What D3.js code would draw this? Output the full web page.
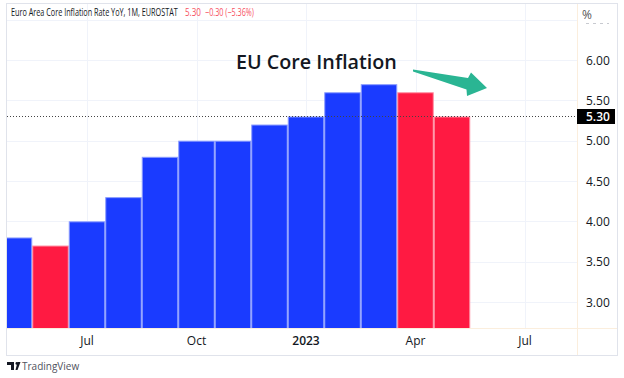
<!DOCTYPE html>
<html><head><meta charset="utf-8">
<script src="https://cdn.jsdelivr.net/npm/d3@7"></script>
<style>
html,body{margin:0;padding:0;background:#fff;}
svg{display:block;font-family:"Open Sans","Noto Sans",sans-serif;}
</style></head>
<body><svg id="c" width="624" height="378"></svg>
<script>
// ---- data ----
const months = ["2022-05","2022-06","2022-07","2022-08","2022-09","2022-10","2022-11","2022-12","2023-01","2023-02","2023-03","2023-04","2023-05"];
const values = [3.8, 3.7, 4.0, 4.3, 4.8, 5.0, 5.0, 5.2, 5.3, 5.6, 5.7, 5.6, 5.3];
const prevValue = 3.5; // April 2022
const yTicks = [3.0, 3.5, 4.0, 4.5, 5.0, 5.5, 6.0, 6.5];
const xTickIdx = [2, 5, 8, 11, 14];
const xTickLabels = ["Jul", "Oct", "2023", "Apr", "Jul"];
const lastValue = 5.30;
const titleMain = "Euro Area Core Inflation Rate YoY, 1M, EUROSTAT";
const titleLast = "5.30";
const titleChange = "\u22120.30 (\u22125.36%)";
const annotation = "EU Core Inflation";

// ---- layout ----
const svg = d3.select("#c");
const L = 6, T = 3, R = 617, B = 355, PR = 577, PB = 328;
const x = d3.scaleLinear().domain([0, 12]).range([14, 452]);
const bw = x(1) - x(0);
const y = d3.scaleLinear().domain([3, 6]).range([302, 60]);

// text fitted to a width by horizontal scaling
function fitText(parent, str, px, py, width, attrs) {
  const t = parent.append("text").attr("x", 0).attr("y", 0);
  Object.entries(attrs).forEach(([k, v]) => t.attr(k, v));
  t.text(str);
  const w = t.node().getComputedTextLength();
  t.attr("transform", `translate(${px},${py}) scale(${width / w},1)`);
  return t;
}

// frame
svg.append("rect").attr("x", L + 0.5).attr("y", T + 0.5).attr("width", R - L).attr("height", B - T)
  .attr("fill", "#fff").attr("stroke", "#e0e3eb");

// grid
const g = svg.append("g");
g.selectAll(".hg").data(yTicks).join("line")
  .attr("x1", L + 1).attr("x2", PR).attr("y1", d => Math.round(y(d)) + 0.5).attr("y2", d => Math.round(y(d)) + 0.5)
  .attr("stroke", "#f0f3fa");
g.selectAll(".vg").data(xTickIdx).join("line")
  .attr("x1", d => Math.round(x(d)) + 0.5).attr("x2", d => Math.round(x(d)) + 0.5)
  .attr("y1", T + 1).attr("y2", PB)
  .attr("stroke", "#f0f3fa");

// bars
svg.append("clipPath").attr("id", "pc").append("rect")
  .attr("x", L + 1).attr("y", T + 1).attr("width", PR - L - 1).attr("height", PB - T - 1);
const prevs = values.map((v, i) => i === 0 ? prevValue : values[i - 1]);
svg.append("g").attr("clip-path", "url(#pc)").selectAll("rect").data(values).join("rect")
  .attr("x", (d, i) => x(i) - bw / 2 + 0.5)
  .attr("y", d => y(d) + 0.5)
  .attr("width", bw - 1)
  .attr("height", d => PB - y(d))
  .attr("fill", (d, i) => d < prevs[i] ? "#ff1a42" : "#1a3bff")
  .attr("stroke", (d, i) => d < prevs[i] ? "#ff8fa2" : "#8a9cff")
  .attr("stroke-width", 1);

// separators
svg.append("line").attr("x1", PR + 0.5).attr("x2", PR + 0.5).attr("y1", T + 1).attr("y2", B)
  .attr("stroke", "#fbeedd");
svg.append("line").attr("x1", L + 1).attr("x2", R).attr("y1", PB + 0.5).attr("y2", PB + 0.5)
  .attr("stroke", "#fbeedd");

// last value dotted line
svg.append("line").attr("x1", L + 1).attr("x2", PR).attr("y1", Math.round(y(lastValue)) + 0.5).attr("y2", Math.round(y(lastValue)) + 0.5)
  .attr("stroke", "#444").attr("stroke-dasharray", "1,2");

// y axis labels
svg.append("g").selectAll("text").data(yTicks.filter(d => d <= 6)).join("text")
  .attr("x", 586).attr("y", d => y(d) + 4.5)
  .attr("font-size", 12).attr("fill", "#131722")
  .text(d => d3.format(".2f")(d));
svg.append("text").attr("x", 582).attr("y", 19).attr("font-size", 12).attr("fill", "#555").text("%");
svg.append("line").attr("x1", 586).attr("x2", 609).attr("y1", 23.5).attr("y2", 23.5)
  .attr("stroke", "#c8cad0").attr("stroke-dasharray", "3,4");

// last value label
svg.append("rect").attr("x", 577).attr("y", Math.round(y(lastValue)) - 7).attr("width", 38).attr("height", 15).attr("fill", "#000");
svg.append("text").attr("x", 586).attr("y", y(lastValue) + 4.5).attr("font-size", 12).attr("font-weight", 600).attr("fill", "#fff")
  .text(d3.format(".2f")(lastValue));

// x axis labels
svg.append("g").selectAll("text").data(xTickIdx).join("text")
  .attr("x", d => x(d)).attr("y", 345).attr("text-anchor", "middle")
  .attr("font-size", 12).attr("fill", "#131722")
  .attr("font-weight", (d, i) => xTickLabels[i] === "2023" ? 600 : 400)
  .text((d, i) => xTickLabels[i]);

// title
fitText(svg, titleMain, 11, 16, 167, {"font-size": 11, "fill": "#131722"});
fitText(svg, titleLast, 185, 16, 16, {"font-size": 11, "fill": "#f7525f"});
fitText(svg, titleChange, 205, 16, 49, {"font-size": 11, "fill": "#f7525f"});

// annotation
fitText(svg, annotation, 236, 69, 161, {"font-size": 20, "font-weight": 600, "fill": "#131722"});
svg.append("path")
  .attr("d", "M413,69.5 L468,78 L471,72.5 L487,88 L467,96 L466.5,89.5 L413,71.5 Z")
  .attr("fill", "#2ab593");

// TradingView logo
const lg = svg.append("g").attr("fill", "#131722");
lg.append("path").attr("d", "M7,362 h7 v8 h-3 v-5 h-4 Z");
lg.append("circle").attr("cx", 16.8).attr("cy", 363.4).attr("r", 1.3);
lg.append("path").attr("d", "M17.5,362 h3 l-3,8 h-2 Z");
svg.append("text").attr("x", 22).attr("y", 370).attr("font-size", 10).attr("fill", "#50535e").text("TradingView");
</script></body></html>
